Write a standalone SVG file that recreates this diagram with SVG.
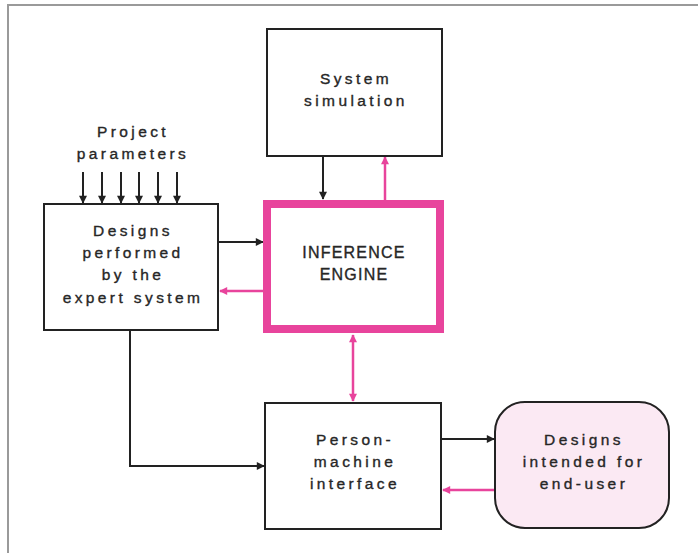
<svg xmlns="http://www.w3.org/2000/svg" width="698" height="553" viewBox="0 0 698 553">
  <style>
    .box { fill: #ffffff; stroke: #222222; stroke-width: 2; }
    .lbl { font-family: "Liberation Sans", Arial, sans-serif; font-size: 15.5px; letter-spacing: 3.4px; fill: #262626; stroke: #262626; stroke-width: 0.35px; text-anchor: middle; }
    .big { font-size: 16px; letter-spacing: 1.2px; }
    .blk { stroke: #222222; stroke-width: 2; fill: none; }
    .pnk { stroke: #e8449c; stroke-width: 2.5; fill: none; }
  </style>
  <defs>
    <marker id="ah" viewBox="0 0 10 10" refX="9" refY="5" markerWidth="9" markerHeight="8" orient="auto" markerUnits="userSpaceOnUse">
      <path d="M0,0 L10,5 L0,10 z" fill="#222222"/>
    </marker>
    <marker id="ap" viewBox="0 0 10 10" refX="9" refY="5" markerWidth="9" markerHeight="8" orient="auto-start-reverse" markerUnits="userSpaceOnUse">
      <path d="M0,0 L10,5 L0,10 z" fill="#e8449c"/>
    </marker>
  </defs>

  <!-- page frame -->
  <path d="M8,553 V5 H698" fill="none" stroke="#9a9a9a" stroke-width="2"/>

  <g id="connectors">
    <!-- project parameters inputs -->
    <line class="blk" x1="83" y1="172" x2="83" y2="203" marker-end="url(#ah)"/>
    <line class="blk" x1="102" y1="172" x2="102" y2="203" marker-end="url(#ah)"/>
    <line class="blk" x1="121" y1="172" x2="121" y2="203" marker-end="url(#ah)"/>
    <line class="blk" x1="139" y1="172" x2="139" y2="203" marker-end="url(#ah)"/>
    <line class="blk" x1="158" y1="172" x2="158" y2="203" marker-end="url(#ah)"/>
    <line class="blk" x1="177" y1="172" x2="177" y2="203" marker-end="url(#ah)"/>
    <!-- designs <-> inference engine -->
    <line class="blk" x1="219" y1="242" x2="263" y2="242" marker-end="url(#ah)"/>
    <line class="pnk" x1="263" y1="291" x2="220" y2="291" marker-end="url(#ap)"/>
    <!-- simulation <-> inference engine -->
    <line class="blk" x1="323" y1="156" x2="323" y2="199" marker-end="url(#ah)"/>
    <line class="pnk" x1="385" y1="200" x2="385" y2="157" marker-end="url(#ap)"/>
    <!-- inference engine <-> interface -->
    <line class="pnk" x1="353" y1="335" x2="353" y2="401" marker-start="url(#ap)" marker-end="url(#ap)"/>
    <!-- designs -> interface -->
    <polyline class="blk" points="130,331 130,466 264,466" marker-end="url(#ah)"/>
    <!-- interface <-> end-user designs -->
    <line class="blk" x1="442" y1="439" x2="494" y2="439" marker-end="url(#ah)"/>
    <line class="pnk" x1="494" y1="490" x2="443" y2="490" marker-end="url(#ap)"/>
  </g>

  <g id="params">
    <text class="lbl" x="133" y="137">Project</text>
    <text class="lbl" x="133" y="159">parameters</text>
  </g>

  <g id="simulation">
    <rect class="box" x="267" y="29" width="175" height="127"/>
    <text class="lbl" x="356" y="84">System</text>
    <text class="lbl" x="356" y="106">simulation</text>
  </g>

  <g id="designs">
    <rect class="box" x="44" y="204" width="174" height="126"/>
    <text class="lbl" x="133" y="236">Designs</text>
    <text class="lbl" x="133" y="258">performed</text>
    <text class="lbl" x="133" y="280">by the</text>
    <text class="lbl" x="133" y="303">expert system</text>
  </g>

  <g id="inference">
    <rect x="267" y="204" width="173" height="125" fill="#ffffff" stroke="#e8449c" stroke-width="8"/>
    <text class="lbl big" x="354" y="258">INFERENCE</text>
    <text class="lbl big" x="354" y="280">ENGINE</text>
  </g>

  <g id="interface">
    <rect class="box" x="265" y="403" width="176" height="126"/>
    <text class="lbl" x="355" y="445">Person-</text>
    <text class="lbl" x="355" y="467">machine</text>
    <text class="lbl" x="355" y="489">interface</text>
  </g>

  <g id="enduser">
    <rect x="495" y="402" width="174" height="126" rx="30" ry="30" fill="#fbe9f3" stroke="#222222" stroke-width="2"/>
    <text class="lbl" x="584" y="445">Designs</text>
    <text class="lbl" x="584" y="467">intended for</text>
    <text class="lbl" x="584" y="489">end-user</text>
  </g>
</svg>
